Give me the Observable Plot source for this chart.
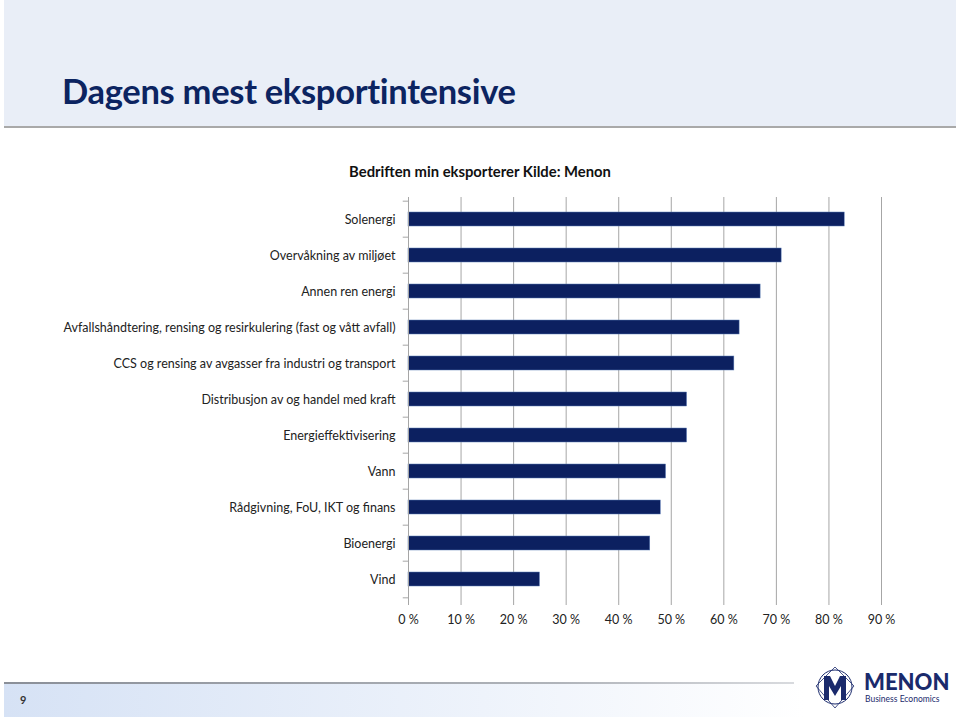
<!DOCTYPE html>
<html>
<head>
<meta charset="utf-8">
<script src="https://cdn.jsdelivr.net/npm/d3@7"></script>
<script src="https://cdn.jsdelivr.net/npm/@observablehq/plot@0.6"></script>
<style>
  html, body { margin: 0; padding: 0; background: #fff; }
  #page { position: relative; width: 960px; height: 717px; overflow: hidden; font-family: Lato, "Open Sans", sans-serif; }
  #header { position: absolute; left: 4px; top: 0; width: 952px; height: 126px; background: #e9eef7; border-bottom: 2px solid #a9a9a9; }
  #title { position: absolute; left: 58px; top: 70px; font-size: 34.5px; font-weight: 700; color: #0c2461; letter-spacing: -0.3px; }
  #subtitle { position: absolute; left: 0; width: 960px; top: 162px; text-align: center; font-size: 14.8px; font-weight: 700; color: #111; }
  #chart { position: absolute; left: 0; top: 190px; }
  #footline { position: absolute; left: 4px; top: 682px; width: 790px; height: 2px; background: linear-gradient(to right, #8a8f98, #b0b4ba 70%, #d8dade); }
  #footband { position: absolute; left: 4px; top: 684px; width: 800px; height: 33px; background: linear-gradient(to right, #d6e2f5, #eef3fb 60%, #ffffff); }
  #pagenum { position: absolute; left: 20px; top: 693px; font-size: 11px; font-weight: 700; color: #333; }
  #logo { position: absolute; left: 812px; top: 662px; }
</style>
</head>
<body>
<div id="page">
  <div id="header"><div id="title">Dagens mest eksportintensive</div></div>
  <div id="subtitle">Bedriften min eksporterer Kilde: Menon</div>
  <div id="chart"></div>
  <div id="footline"></div>
  <div id="footband"></div>
  <div id="pagenum">9</div>
  <svg id="logo" width="140" height="52" viewBox="0 0 140 52">
    <circle cx="23" cy="25" r="17" fill="none" stroke="#1a2a6c" stroke-width="1"/>
    <path d="M4 24 L23 5 L42 24 L23 46 Z" fill="none" stroke="#1a2a6c" stroke-width="0.8"/>
    <path d="M12 38 L12 14 L18 14 L23 24 L28 14 L34 14 L34 38 L29 38 L29 24 L23 34 L17 24 L17 38 Z" fill="#1a2a6c"/>
    <text x="52" y="28" font-family="Lato, sans-serif" font-weight="900" font-size="22" fill="#1a2a6c">MENON</text>
    <text x="53" y="40" font-family="Lato, sans-serif" font-size="8.5" fill="#1a2a6c">Business Economics</text>
  </svg>
</div>
<script>
const categories = [
  "Solenergi",
  "Overvåkning av miljøet",
  "Annen ren energi",
  "Avfallshåndtering, rensing og resirkulering (fast og vått avfall)",
  "CCS og rensing av avgasser fra industri og transport",
  "Distribusjon av og handel med kraft",
  "Energieffektivisering",
  "Vann",
  "Rådgivning, FoU, IKT og finans",
  "Bioenergi",
  "Vind"
];
const shares = [83, 71, 67, 63, 62, 53, 53, 49, 48, 46, 25];
const xTicks = [0, 10, 20, 30, 40, 50, 60, 70, 80, 90];

const data = categories.map((c, i) => ({category: c, share: shares[i]}));

const plotHeight = 450, mTop = 7, mBottom = 40;
const step = (plotHeight - mTop - mBottom) / categories.length;

const chart = Plot.plot({
  width: 960,
  height: plotHeight,
  marginLeft: 408,
  marginRight: 79,
  marginTop: mTop,
  marginBottom: mBottom,
  style: {fontFamily: "Lato, 'Open Sans', sans-serif", fontSize: "12.5px", color: "#222", background: "transparent"},
  x: {domain: [0, 90], ticks: xTicks, tickFormat: d => d + " %", label: null},
  y: {domain: categories, paddingInner: 0.62, paddingOuter: 0.31, label: null},
  marks: [
    Plot.gridX(xTicks, {stroke: "#a6a6a6", strokeOpacity: 1, strokeWidth: 1}),
    Plot.barX(data, {x: "share", y: "category", fill: "#0c2060", stroke: "#5a7bb5", strokeWidth: 0.5}),
    Plot.ruleX([0], {stroke: "#a6a6a6", strokeWidth: 1}),
    Plot.ruleY([0], {frameAnchor: "bottom", stroke: "#a6a6a6"}),
    Plot.ruleY(categories, {y: d => d, x1: -1, x2: 0, dy: -step / 2, stroke: "#a6a6a6"}),
    Plot.ruleY(categories.slice(-1), {y: d => d, x1: -1, x2: 0, dy: step / 2, stroke: "#a6a6a6"}),
    Plot.axisX({ticks: xTicks, tickSize: 5, tickPadding: 10, stroke: "#a6a6a6", fontSize: 12.5, fill: "#222", tickFormat: d => d + " %", label: null}),
    Plot.axisY({tickSize: 0, tickPadding: 13, fontSize: 12.5, fill: "#222", label: null})
  ]
});
document.getElementById("chart").appendChild(chart);
</script>
</body>
</html>
